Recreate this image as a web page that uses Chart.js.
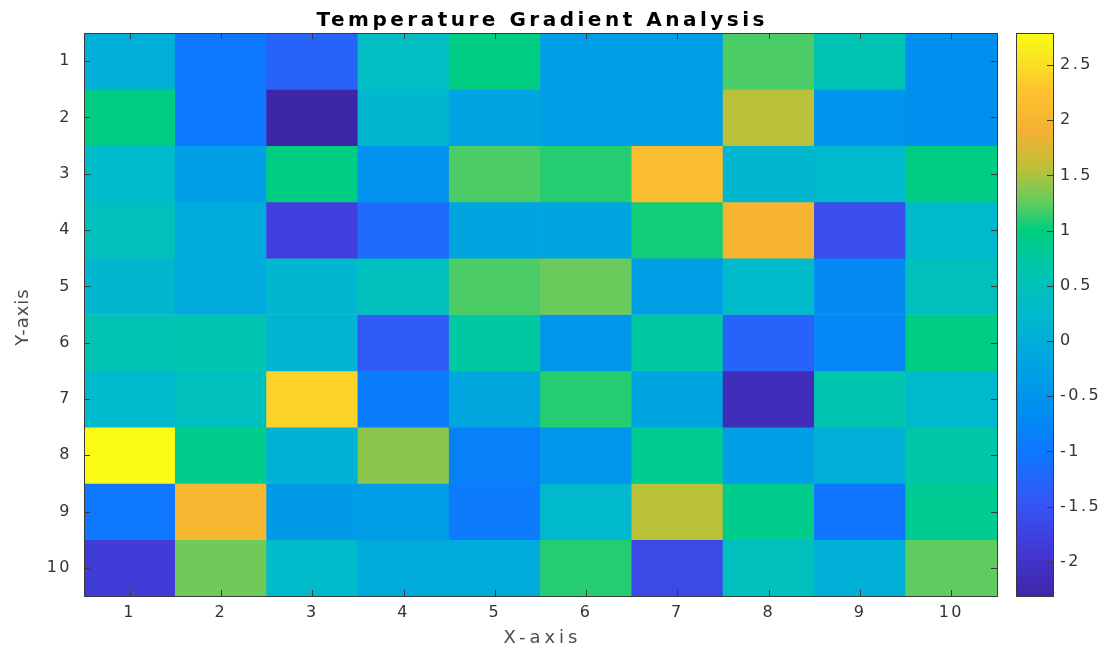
<!DOCTYPE html>
<html>
<head>
<meta charset="utf-8">
<title>Temperature Gradient Analysis</title>
<script src="https://cdn.jsdelivr.net/npm/chart.js@4.4.0/dist/chart.umd.min.js"></script>
<style>
  html, body { margin: 0; padding: 0; background: #fff; }
  #wrap { position: relative; width: 1107px; height: 648px; }
  #heat { position: absolute; left: 0; top: 0; }
  #cbar { position: absolute; left: 1000px; top: 0; }
</style>
</head>
<body>
<div id="wrap">
  <canvas id="heat" width="1107" height="648"></canvas>
  <canvas id="cbar" width="107" height="648"></canvas>
</div>
<script>
// grid labels //
const columns = ['1', '2', '3', '4', '5', '6', '7', '8', '9', '10'];
const rows = [1, 2, 3, 4, 5, 6, 7, 8, 9, 10];

// cell values, one list per row (top row first) //
const cellValues = [
  [0.0, -1.0, -1.3, 0.4, 0.95, -0.3, -0.3, 1.2, 0.6, -0.6],
  [0.95, -1.0, -2.31, 0.2, -0.2, -0.3, -0.3, 1.55, -0.5, -0.6],
  [0.3, -0.3, 0.95, -0.55, 1.2, 1.1, 2.15, 0.2, 0.25, 0.95],
  [0.45, -0.05, -1.8, -1.2, -0.2, -0.2, 1.05, 2.0, -1.6, 0.25],
  [0.2, -0.05, 0.2, 0.45, 1.2, 1.28, -0.3, 0.3, -0.7, 0.45],
  [0.6, 0.65, 0.15, -1.4, 0.75, -0.45, 0.75, -1.3, -0.75, 0.95],
  [0.25, 0.45, 2.4, -0.9, -0.15, 1.1, -0.2, -2.15, 0.65, 0.25],
  [2.79, 0.9, 0.1, 1.4, -0.85, -0.45, 0.85, -0.3, 0.05, 0.7],
  [-1.0, 2.05, -0.4, -0.3, -0.95, 0.25, 1.55, 0.9, -1.05, 0.85],
  [-1.85, 1.3, 0.3, -0.05, -0.05, 1.1, -1.65, 0.45, 0.05, 1.25]
];

// colorbar tick labels //
const colorbarTicks = [-2, -1.5, -1, -0.5, 0, 0.5, 1, 1.5, 2, 2.5];

// parula-like colormap stops (position 0..1, rgb) //
const cmapStops = [
  [0.00, [62, 38, 168]],
  [0.08, [67, 55, 212]],
  [0.17, [52, 88, 246]],
  [0.25, [15, 118, 255]],
  [0.33, [0, 142, 240]],
  [0.42, [0, 166, 224]],
  [0.50, [0, 185, 205]],
  [0.58, [0, 198, 175]],
  [0.65, [0, 206, 124]],
  [0.70, [100, 203, 95]],
  [0.76, [190, 192, 55]],
  [0.83, [245, 176, 50]],
  [0.90, [252, 196, 45]],
  [0.95, [250, 226, 35]],
  [1.00, [249, 251, 20]]
];

const allValues = cellValues.flat();
const cmin = Math.min(...allValues);
const cmax = Math.max(...allValues);

function colorAt(t) {
  t = Math.max(0, Math.min(1, t));
  for (let i = 1; i < cmapStops.length; i++) {
    const [t1, c1] = cmapStops[i];
    const [t0, c0] = cmapStops[i - 1];
    if (t <= t1) {
      const f = (t - t0) / (t1 - t0);
      const c = c0.map((v, k) => Math.round(v + (c1[k] - v) * f));
      return 'rgb(' + c.join(',') + ')';
    }
  }
  return 'rgb(249,251,20)';
}

function valueColor(v) {
  return colorAt((v - cmin) / (cmax - cmin));
}

const FONT = "'DejaVu Sans', sans-serif";
const EDGE = '#3a3a3a';
const TICK_FONT = { family: FONT, size: 16 };

// draws text with its own letter spacing //
function spacedText(ctx, text, x, y, font, spacing, color, angle) {
  ctx.save();
  ctx.letterSpacing = spacing + 'px';
  ctx.font = font;
  ctx.fillStyle = color;
  ctx.textAlign = 'center';
  ctx.textBaseline = 'alphabetic';
  ctx.translate(x, y);
  if (angle) ctx.rotate(angle);
  ctx.fillText(text, spacing / 2, 0);
  ctx.restore();
}

// inward tick marks, box and texts //
const boxTicks = {
  id: 'boxTicks',
  afterDatasetsDraw(chart, args, opts) {
    const {ctx, chartArea: a} = chart;
    ctx.save();
    ctx.strokeStyle = EDGE;
    ctx.lineWidth = 1;
    const len = 6;
    ctx.beginPath();
    if (opts.x) {
      const xs = chart.scales.x;
      xs.ticks.forEach((t, i) => {
        const px = Math.round(xs.getPixelForTick(i)) + 0.5;
        ctx.moveTo(px, a.top); ctx.lineTo(px, a.top + len);
        ctx.moveTo(px, a.bottom); ctx.lineTo(px, a.bottom - len);
      });
    }
    const ys = chart.scales.y;
    ys.ticks.forEach((t, i) => {
      const py = Math.round(ys.getPixelForTick(i)) + 0.5;
      if (opts.left) { ctx.moveTo(a.left, py); ctx.lineTo(a.left + len, py); }
      ctx.moveTo(a.right, py); ctx.lineTo(a.right - len, py);
    });
    ctx.stroke();
    ctx.strokeRect(Math.round(a.left) + 0.5, Math.round(a.top) + 0.5,
      Math.round(a.right - a.left), Math.round(a.bottom - a.top));
    ctx.restore();
    // spacing used by the tick labels drawn next //
    ctx.letterSpacing = '2.5px';
  },
  afterDraw(chart, args, opts) {
    const {ctx, chartArea: a} = chart;
    ctx.letterSpacing = '0px';
    const mid = (a.left + a.right) / 2;
    if (opts.title) {
      spacedText(ctx, opts.title, mid, 26, 'bold 20px ' + FONT, 3.5, '#000');
    }
    if (opts.xTitle) {
      spacedText(ctx, opts.xTitle, mid, 643, '18px ' + FONT, 4, '#4d4d4d');
    }
    if (opts.yTitle) {
      spacedText(ctx, opts.yTitle, 28, (a.top + a.bottom) / 2 + 3, '18px ' + FONT, 1, '#4d4d4d', -Math.PI / 2);
    }
  }
};

// heatmap: one floating-bar dataset per row //
const heatData = rows.map((r, ri) => ({
  label: 'row ' + r,
  data: columns.map(() => [r - 0.5, r + 0.5]),
  backgroundColor: cellValues[ri].map(valueColor),
  borderWidth: 0,
  barPercentage: 1,
  categoryPercentage: 1,
  grouped: false
}));

new Chart(document.getElementById('heat'), {
  type: 'bar',
  data: { labels: columns, datasets: heatData },
  options: {
    responsive: false,
    animation: false,
    layout: { padding: { top: 33, right: 110, left: 0, bottom: 0 } },
    plugins: {
      legend: { display: false },
      tooltip: { enabled: false },
      boxTicks: { x: true, left: true, title: 'Temperature Gradient Analysis', xTitle: 'X-axis', yTitle: 'Y-axis' }
    },
    scales: {
      x: {
        grid: { display: false, drawTicks: false },
        border: { display: false },
        ticks: { z: 1, padding: 7, color: '#333', maxRotation: 0, font: TICK_FONT },
        afterFit(s) { s.height = 52; }
      },
      y: {
        type: 'linear',
        reverse: true,
        min: 0.5,
        max: 10.5,
        grid: { display: false, drawTicks: false },
        border: { display: false },
        afterBuildTicks(s) { s.ticks = rows.map(v => ({ value: v })); },
        ticks: { z: 1, padding: 12, color: '#333', font: TICK_FONT },
        afterFit(s) { s.width = 84; }
      }
    }
  },
  plugins: [boxTicks]
});

// colorbar //
new Chart(document.getElementById('cbar'), {
  type: 'bar',
  data: {
    labels: [''],
    datasets: [{
      data: [[cmin, cmax]],
      borderWidth: 0,
      barPercentage: 1,
      categoryPercentage: 1,
      backgroundColor(c) {
        const chart = c.chart;
        const ys = chart.scales.y;
        if (!chart.chartArea || !ys) return null;
        const g = chart.ctx.createLinearGradient(0, ys.getPixelForValue(cmin), 0, ys.getPixelForValue(cmax));
        cmapStops.forEach(([t, rgb]) => g.addColorStop(t, 'rgb(' + rgb.join(',') + ')'));
        return g;
      }
    }]
  },
  options: {
    responsive: false,
    animation: false,
    layout: { padding: { top: 33, left: 16, right: 0, bottom: 52 } },
    plugins: {
      legend: { display: false },
      tooltip: { enabled: false },
      boxTicks: { x: false, left: false }
    },
    scales: {
      x: { display: false, offset: true },
      y: {
        position: 'right',
        min: cmin,
        max: cmax,
        grid: { display: false, drawTicks: false },
        border: { display: false },
        afterBuildTicks(s) { s.ticks = colorbarTicks.map(v => ({ value: v })); },
        ticks: { z: 1, padding: 7, color: '#333', font: TICK_FONT, callback: v => String(v) },
        afterFit(s) { s.width = 54; }
      }
    }
  },
  plugins: [boxTicks]
});
</script>
</body>
</html>
